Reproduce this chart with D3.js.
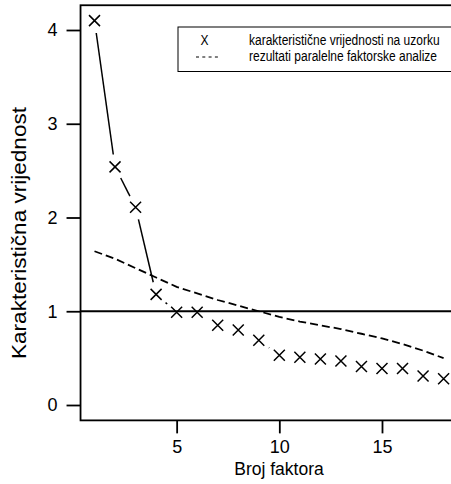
<!DOCTYPE html>
<html>
<head>
<meta charset="utf-8">
<script src="https://d3js.org/d3.v7.min.js"></script>
<style>
  body { margin: 0; background: #fff; }
  #chart { position: relative; width: 451px; height: 484px; }
  svg { display: block; font-family: "Liberation Sans", Arial, sans-serif; }
  svg.frame { position: absolute; left: 0; top: 0; pointer-events: none; }
</style>
</head>
<body>
<div id="chart"></div>
<script>

//Data
var factors = [1, 2, 3, 4, 5, 6, 7, 8, 9, 10, 11, 12, 13, 14, 15, 16, 17, 18];
var eigenValues = [4.10, 2.54, 2.11, 1.18, 0.99, 0.99, 0.85, 0.80, 0.69, 0.53, 0.51, 0.49, 0.47, 0.41, 0.39, 0.39, 0.31, 0.28];
var parallelValues = [1.64, 1.56, 1.46, 1.36, 1.26, 1.19, 1.12, 1.06, 1.00, 0.94, 0.89, 0.85, 0.81, 0.76, 0.71, 0.65, 0.58, 0.50];
var xTicks = [5, 10, 15];
var yTicks = [0, 1, 2, 3, 4];
var legendLabels = ["karakteristične vrijednosti na uzorku", "rezultati paralelne faktorske analize"];

var width = 451, height = 484;

//Scales, R style: axis range padded by 4% on each side
var xScale = d3.scaleLinear().domain([1, 18]).range([94.5, 443.6]);
var yScale = d3.scaleLinear().domain([0, 4]).range([405, 30]);
var xPad = (18 - 1) * 0.04, yPad = 4.1 * 0.04;
var plotLeft = xScale(1 - xPad), plotRight = xScale(18 + xPad);
var plotTop = yScale(4.1 + yPad), plotBottom = yScale(0 - yPad);

var svg = d3.select("#chart").append("svg")
    .attr("width", width)
    .attr("height", height);

//Reference line at eigenvalue 1
svg.append("line")
    .attr("x1", plotLeft).attr("x2", plotRight)
    .attr("y1", yScale(1)).attr("y2", yScale(1))
    .attr("stroke", "#000")
    .attr("stroke-width", 2);

//Parallel analysis, dashed line
var pcLine = d3.line()
    .x(function (d, i) { return xScale(factors[i]); })
    .y(function (d) { return yScale(d); });

svg.append("path")
    .datum(parallelValues)
    .attr("d", pcLine)
    .attr("fill", "none")
    .attr("stroke", "#000")
    .attr("stroke-width", 1.8)
    .attr("stroke-dasharray", "8,4");

//Eigenvalues: type = "b", segments with gaps around the points
var gap = 12.5;
var segs = [];
for (var k = 0; k < factors.length - 1; k++) {
    var ax = xScale(factors[k]), ay = yScale(eigenValues[k]);
    var bx = xScale(factors[k + 1]), by = yScale(eigenValues[k + 1]);
    var segLen = Math.sqrt((bx - ax) * (bx - ax) + (by - ay) * (by - ay));
    if (segLen > 2 * gap) {
        var ux = (bx - ax) / segLen, uy = (by - ay) / segLen;
        segs.push([ax + ux * gap, ay + uy * gap, bx - ux * gap, by - uy * gap]);
    }
}
svg.append("g")
    .selectAll("line")
    .data(segs)
    .enter().append("line")
    .attr("x1", function (d) { return d[0]; })
    .attr("y1", function (d) { return d[1]; })
    .attr("x2", function (d) { return d[2]; })
    .attr("y2", function (d) { return d[3]; })
    .attr("stroke", "#000")
    .attr("stroke-width", 1.5);

//Cross markers (pch = 4)
var half = 5.5;
svg.append("g")
    .selectAll("path")
    .data(eigenValues)
    .enter().append("path")
    .attr("d", function (d, i) {
        var cx = xScale(factors[i]), cy = yScale(d);
        return "M" + (cx - half) + "," + (cy - half) + "L" + (cx + half) + "," + (cy + half) +
               "M" + (cx - half) + "," + (cy + half) + "L" + (cx + half) + "," + (cy - half);
    })
    .attr("stroke", "#000")
    .attr("stroke-width", 1.5)
    .attr("fill", "none");

//Axes
var xAxis = svg.append("g")
    .attr("transform", "translate(0," + plotBottom + ")")
    .call(d3.axisBottom(xScale).tickValues(xTicks).tickFormat(d3.format("d")).tickSize(13).tickPadding(7));
var yAxis = svg.append("g")
    .attr("transform", "translate(" + plotLeft + ",0)")
    .call(d3.axisLeft(yScale).tickValues(yTicks).tickFormat(d3.format("d")).tickSize(14).tickPadding(9));

xAxis.selectAll("path.domain").attr("stroke", "none");
yAxis.selectAll("path.domain").attr("stroke", "none");
svg.selectAll(".tick line").attr("stroke", "#000").attr("stroke-width", 1.8);
svg.selectAll(".tick text")
    .attr("fill", "#000")
    .style("font-family", "'Liberation Sans', Arial, sans-serif")
    .style("font-size", "18px");

//Axis titles
svg.append("text")
    .attr("x", 279).attr("y", 475)
    .attr("text-anchor", "middle")
    .style("font-size", "17.5px")
    .text("Broj faktora");

svg.append("text")
    .attr("transform", "translate(26,233) rotate(-90)")
    .attr("text-anchor", "middle")
    .attr("textLength", 252)
    .attr("lengthAdjust", "spacingAndGlyphs")
    .style("font-size", "19.5px")
    .text("Karakteristična vrijednost");

//Legend
var legend = svg.append("g");
legend.append("rect")
    .attr("x", 178).attr("y", 27)
    .attr("width", 300).attr("height", 44.5)
    .attr("fill", "#fff")
    .attr("stroke", "#000")
    .attr("stroke-width", 1);

legend.append("text")
    .attr("transform", "translate(204.5,44.5) scale(1,1.15)")
    .attr("text-anchor", "middle")
    .style("font-size", "12px")
    .text("X");

legend.append("line")
    .attr("x1", 196).attr("x2", 221)
    .attr("y1", 57).attr("y2", 57)
    .attr("stroke", "#000")
    .attr("stroke-width", 1)
    .attr("stroke-dasharray", "3,3.3");

legend.selectAll(".lab")
    .data(legendLabels)
    .enter().append("text")
    .attr("class", "lab")
    .attr("transform", function (d, i) { return "translate(249," + (44.5 + i * 16.5) + ") scale(1,1.15)"; })
    .style("font-size", "12px")
    .text(function (d) { return d; });

//Box around the plot region, in its own overlay svg (right edge falls outside the picture)
var frame = d3.select("#chart").append("svg")
    .attr("class", "frame")
    .attr("width", width)
    .attr("height", height);

frame.append("rect")
    .attr("x", plotLeft).attr("y", plotTop)
    .attr("width", plotRight - plotLeft).attr("height", plotBottom - plotTop)
    .attr("fill", "none")
    .attr("stroke", "#000")
    .attr("stroke-width", 1.8);

</script>
</body>
</html>
